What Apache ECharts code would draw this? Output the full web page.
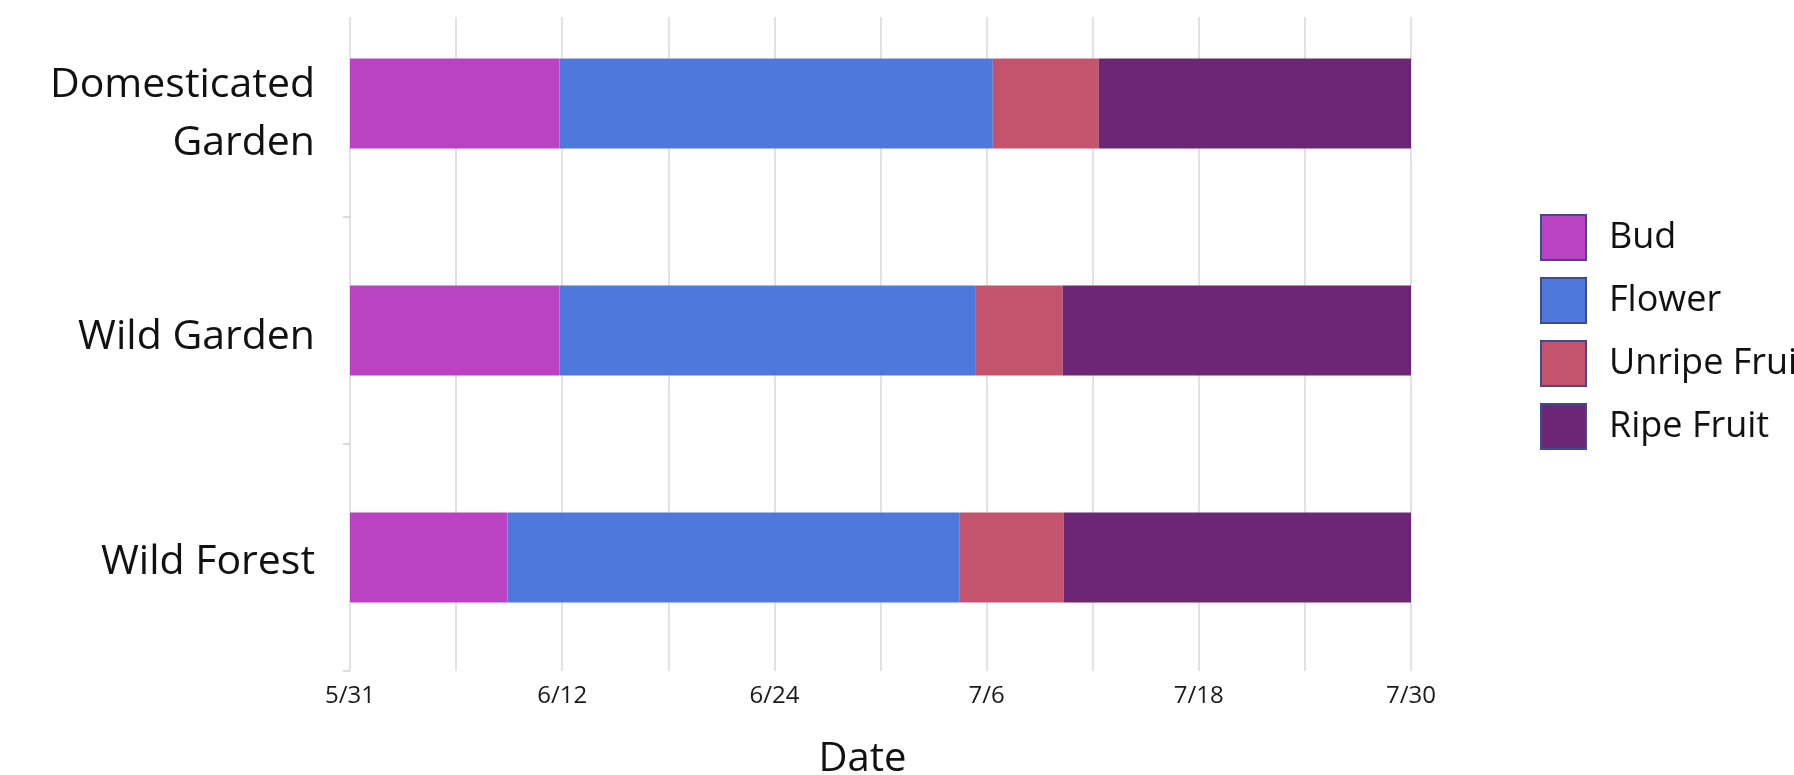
<!DOCTYPE html>
<html>
<head>
<meta charset="utf-8">
<script src="https://cdn.jsdelivr.net/npm/echarts@6/dist/echarts.min.js"></script>
<style>
html,body{margin:0;padding:0;background:#fff;}
#chart{width:1794px;height:775px;}
</style>
</head>
<body>
<div id="chart"></div>
<script>
// Data (days since 5/31)
const categories = ['Domesticated\nGarden', 'Wild Garden', 'Wild Forest'];
const seriesNames = ['Bud', 'Flower', 'Unripe Fruit', 'Ripe Fruit'];
const bud = [11.85, 11.85, 8.9];
const flower = [24.5, 23.5, 25.55];
const unripe = [6.0, 4.95, 5.9];
const ripe = [17.65, 19.7, 19.65];
const tickLabels = ['5/31', '6/12', '6/24', '7/6', '7/18', '7/30'];
const colors = ['#b943c3', '#4f78dc', '#c4546e', '#6d2674'];

const FONT = 'Open Sans';
const values = [bud, flower, unripe, ripe];

const chart = echarts.init(document.getElementById('chart'), null, {renderer: 'canvas'});
chart.setOption({
  animation: false,
  backgroundColor: '#ffffff',
  textStyle: {fontFamily: FONT},
  grid: [
    {left: 350, right: 383, top: -10, bottom: 104, containLabel: false, outerBoundsMode: 'none'},
    {left: 350, right: 383, top: 17, bottom: 104, containLabel: false, outerBoundsMode: 'none'}
  ],
  legend: {
    orient: 'vertical',
    left: 1540,
    top: 214,
    padding: 0,
    itemWidth: 45,
    itemHeight: 45,
    itemGap: 16,
    icon: 'rect',
    itemStyle: {borderColor: '#3f4b8c', borderWidth: 2},
    textStyle: {fontFamily: FONT, fontSize: 36, lineHeight: 45, color: '#111', padding: [0, 0, 0, 18]},
    data: seriesNames
  },
  xAxis: [
    {
      gridIndex: 0, type: 'value', min: 0, max: 60, show: false
    },
    {
      gridIndex: 1, type: 'value', min: 0, max: 60, interval: 6,
      axisLine: {show: false},
      axisTick: {show: false},
      splitLine: {show: true, lineStyle: {color: '#d9d9d9', width: 1.5}},
      axisLabel: {
        margin: 13,
        fontFamily: FONT, fontSize: 24, color: '#1a1a1a',
        showMinLabel: true, showMaxLabel: true,
        formatter: function (v) {
          return (v % 12 === 0) ? tickLabels[v / 12] : '';
        }
      },
      name: 'Date',
      nameLocation: 'middle',
      nameGap: 69,
      nameTextStyle: {fontFamily: FONT, fontSize: 40, color: '#111', padding: [0, 36, 0, 0]}
    }
  ],
  yAxis: [
    {
      gridIndex: 0, type: 'category', inverse: true,
      data: categories,
      axisLine: {show: false},
      axisTick: {show: true, length: 7, lineStyle: {color: '#cfcfcf', width: 1.5}},
      splitLine: {show: false},
      axisLabel: {
        margin: 35, fontFamily: FONT, fontSize: 41, lineHeight: 58, color: '#111', align: 'right',
        formatter: function (v, idx) {
          const spacer = idx === 0 ? '{sA| }' : (idx === 1 ? '{sB| }' : '{sC| }');
          return spacer + '\n' + String(v).split('\n').map(function (l) {
            return '{a|' + l + '}';
          }).join('\n');
        },
        rich: {
          a: {fontFamily: FONT, fontSize: 41, lineHeight: 58, color: '#111'},
          sA: {fontSize: 1, lineHeight: 22},
          sB: {fontSize: 1, lineHeight: 13},
          sC: {fontSize: 1, lineHeight: 10}
        }
      }
    },
    {
      gridIndex: 1, type: 'value', min: 0, max: 1, show: false
    }
  ],
  series: seriesNames.map(function (name, i) {
    return {
      name: name,
      type: 'bar',
      stack: 'total',
      xAxisIndex: 0,
      yAxisIndex: 0,
      barWidth: 90,
      itemStyle: {color: colors[i]},
      data: values[i]
    };
  })
});
</script>
</body>
</html>
